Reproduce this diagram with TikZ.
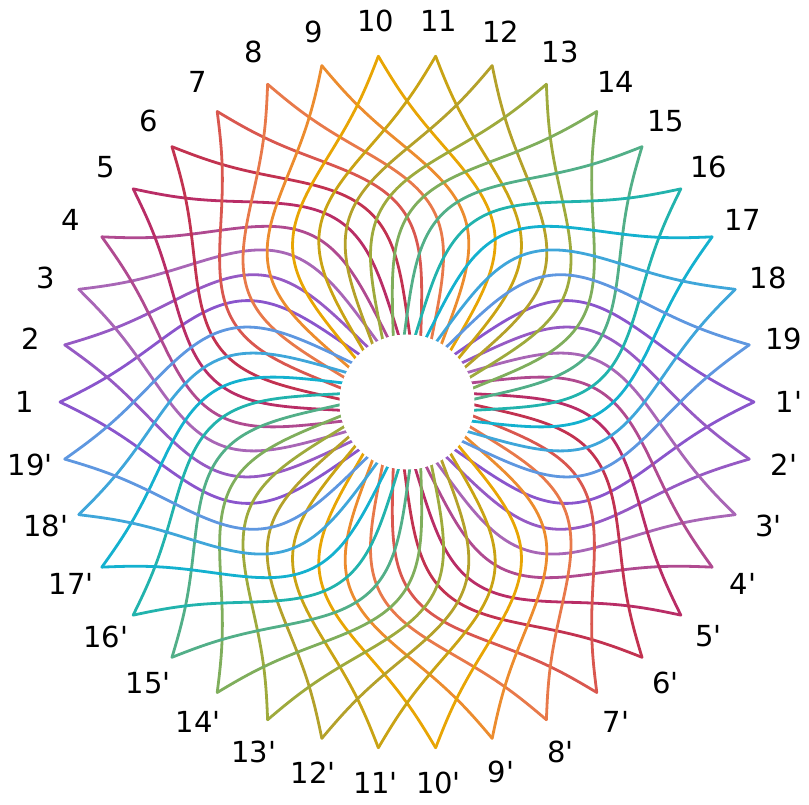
\documentclass[tikz,border=0pt]{standalone}
\usepackage{fontspec}
\newfontfamily\labfont{DejaVu Sans}
\usetikzlibrary{calc}
\definecolor{s1}{HTML}{8A55CC}
\definecolor{s2}{HTML}{965AC4}
\definecolor{s3}{HTML}{A866B6}
\definecolor{s4}{HTML}{B04A90}
\definecolor{s5}{HTML}{B92D66}
\definecolor{s6}{HTML}{C23250}
\definecolor{s7}{HTML}{D9574F}
\definecolor{s8}{HTML}{E8794A}
\definecolor{s9}{HTML}{EC8C2E}
\definecolor{s10}{HTML}{E8A504}
\definecolor{s11}{HTML}{C9A314}
\definecolor{s12}{HTML}{B4A12A}
\definecolor{s13}{HTML}{9EAA3C}
\definecolor{s14}{HTML}{7FAE5C}
\definecolor{s15}{HTML}{52AF88}
\definecolor{s16}{HTML}{22B3AD}
\definecolor{s17}{HTML}{14B1CF}
\definecolor{s18}{HTML}{3FA6DA}
\definecolor{s19}{HTML}{5E97E0}
\tikzset{
  strand/.style={line width=2.8pt, draw=#1, line cap=round, line join=round},
  tiplabel/.style={font=\labfont\fontsize{29}{29}\selectfont, inner sep=0pt}
}

\begin{document}
\begin{tikzpicture}[x=1pt, y=1pt]
  \useasboundingbox (0,0) rectangle (809,804);
  \coordinate (c) at (407,402);
  % two arcs leave every tip (k and k') and run into the hole
  \foreach \k in {1,...,19} {
    \pgfmathsetmacro\ang{180-(\k-1)*360/38}
    \foreach \rot in {\ang,\ang+180} {
      \foreach \sg in {1,-1} {
        \draw[strand=s\k, shift={(c)}, rotate=\rot]
          plot[domain=0:1, samples=70, smooth]
          ({347*(1-\x)}, {\sg*(85.5*sin(180*\x)-7.5*sin(360*\x)-7.1*sin(540*\x)+15*\x)});
      }
    }
    \node[tiplabel] (t\k) at ($(c)+(\ang:382)$) {\k};
    \node[tiplabel] (b\k) at ($(c)+(\ang+180:382)$) {\k'};
  }
  % central hole
  \fill[white] (c) circle (67.5);
\end{tikzpicture}
\end{document}
